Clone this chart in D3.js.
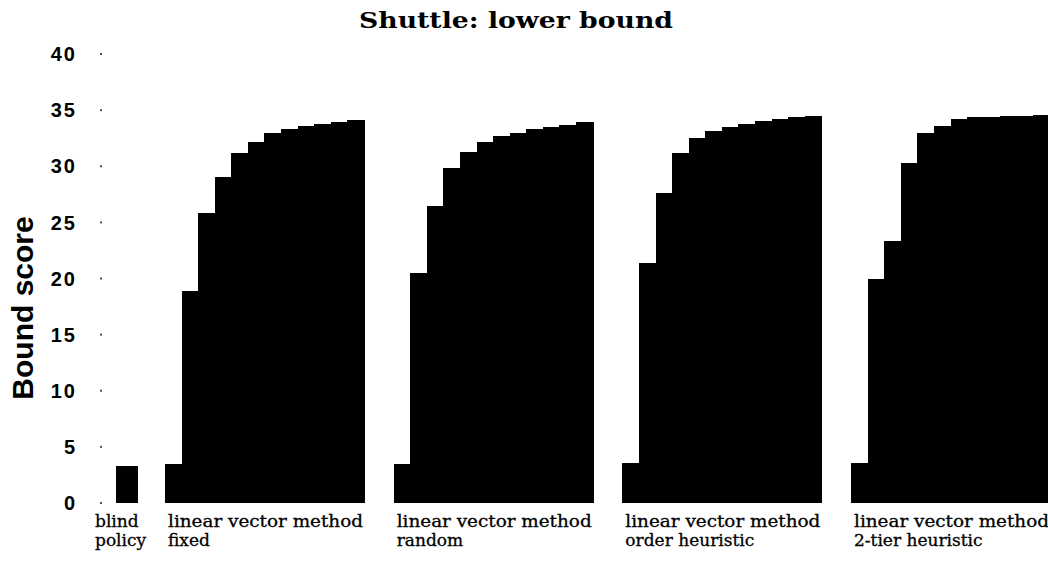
<!DOCTYPE html>
<html>
<head>
<meta charset="utf-8">
<script src="https://cdn.jsdelivr.net/npm/d3@7"></script>
<style>
  body { margin: 0; background: #fff; }
  svg { display: block; }
</style>
</head>
<body>
<svg id="chart" width="1048" height="564"></svg>
<script>
/* Shuttle lower bound - stepped bars per method */
var groups = ["fixed", "random", "order heuristic", "2-tier heuristic"];
var fixedScores   = [3.5, 18.9, 25.8, 29.0, 31.2, 32.2, 33.0, 33.3, 33.6, 33.8, 33.9, 34.1];
var randomScores  = [3.5, 20.5, 26.5, 29.8, 31.3, 32.2, 32.7, 33.0, 33.3, 33.5, 33.7, 33.9];
var orderScores   = [3.6, 21.4, 27.6, 31.2, 32.5, 33.1, 33.5, 33.8, 34.0, 34.2, 34.4, 34.5];
var twoTierScores = [3.6, 20.0, 23.3, 30.3, 33.0, 33.6, 34.2, 34.4, 34.4, 34.5, 34.5, 34.6];
var blindScore = 3.3;
var yTicks = [0, 5, 10, 15, 20, 25, 30, 35, 40];

var series = [fixedScores, randomScores, orderScores, twoTierScores];

var svg = d3.select("#chart");

var y = d3.scaleLinear().domain([0, 40]).range([503, 54]);

// the four method groups
var x = d3.scaleBand().domain(groups).range([165, 1050])
    .paddingInner(0.13).paddingOuter(0);
var xi = d3.scaleBand().domain(d3.range(fixedScores.length))
    .range([0, x.bandwidth()]).padding(0);
// blind policy sits on its own
var xb = d3.scaleBand().domain(["blind policy"]).range([116, 138]);

// title
svg.append("text")
    .attr("x", 516).attr("y", 28)
    .attr("text-anchor", "middle")
    .attr("font-family", "DejaVu Serif")
    .attr("font-weight", "bold")
    .attr("font-size", 23)
    .attr("textLength", 314)
    .attr("lengthAdjust", "spacingAndGlyphs")
    .text("Shuttle: lower bound");

// y label
svg.append("text")
    .attr("transform", "translate(33,308) rotate(-90)")
    .attr("text-anchor", "middle")
    .attr("font-family", "Liberation Sans, Arial, sans-serif")
    .attr("font-weight", "bold")
    .attr("font-size", 30)
    .text("Bound score");

// y ticks: dots + labels
var tk = svg.append("g").selectAll("g").data(yTicks).enter().append("g");
tk.append("rect")
    .attr("x", 100).attr("y", function(d){ return y(d) - 1; })
    .attr("width", 2).attr("height", 2)
    .attr("fill", "#555");
tk.append("text")
    .attr("x", 77).attr("y", function(d){ return y(d); })
    .attr("dy", "0.36em")
    .attr("text-anchor", "end")
    .attr("font-family", "Liberation Sans, Arial, sans-serif")
    .attr("font-weight", "bold")
    .attr("font-size", 20)
    .attr("letter-spacing", 2)
    .text(function(d){ return d; });

// blind bar
svg.append("rect")
    .attr("x", xb("blind policy"))
    .attr("y", y(blindScore))
    .attr("width", xb.bandwidth())
    .attr("height", y(0) - y(blindScore))
    .attr("fill", "#000")
    .attr("shape-rendering", "crispEdges");

// grouped stepped bars
var gg = svg.append("g").selectAll("g").data(groups).enter().append("g")
    .attr("transform", function(d){ return "translate(" + x(d) + ",0)"; });
gg.selectAll("rect")
    .data(function(d, i){ return series[i]; })
    .enter().append("rect")
    .attr("x", function(d, i){ return xi(i); })
    .attr("y", function(d){ return y(d); })
    .attr("width", xi.bandwidth() + 1)
    .attr("height", function(d){ return y(0) - y(d); })
    .attr("fill", "#000")
    .attr("shape-rendering", "crispEdges");

// category labels
var labFont = "DejaVu Serif";
var blab = svg.append("text")
    .attr("font-family", labFont).attr("font-size", 17)
    .attr("stroke", "#000").attr("stroke-width", 0.3);
blab.append("tspan").attr("x", 95).attr("y", 527).text("blind");
blab.append("tspan").attr("x", 95).attr("y", 546).text("policy");

var glab = svg.append("g").selectAll("text").data(groups).enter().append("text")
    .attr("font-family", labFont).attr("font-size", 17)
    .attr("stroke", "#000").attr("stroke-width", 0.3);
glab.append("tspan")
    .attr("x", function(d){ return x(d) + 3; }).attr("y", 527)
    .attr("textLength", 195)
    .attr("lengthAdjust", "spacingAndGlyphs")
    .text("linear vector method");
glab.append("tspan")
    .attr("x", function(d){ return x(d) + 3; }).attr("y", 546)
    .text(function(d){ return d; });
</script>
</body>
</html>
